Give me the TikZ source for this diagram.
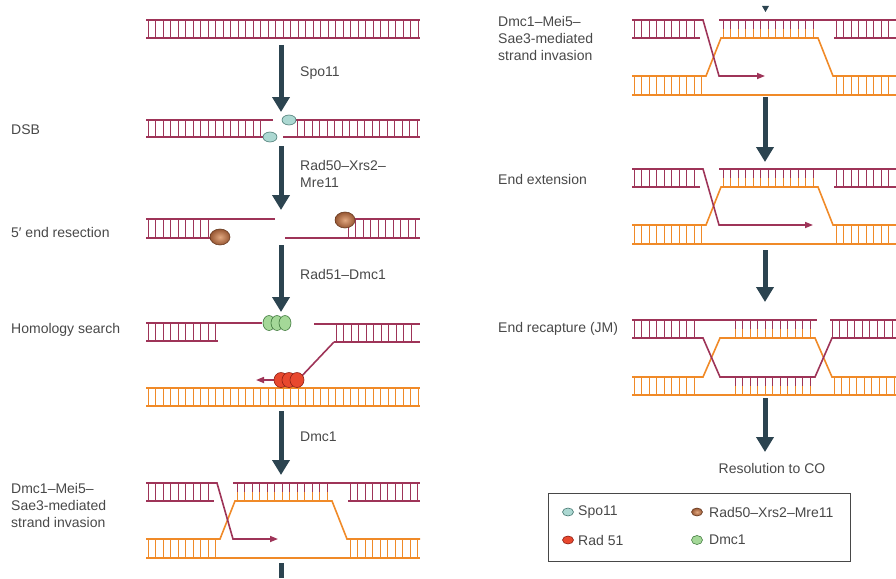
\documentclass[tikz,border=0pt]{standalone}
\usepackage{fontspec}
\setmainfont{Liberation Sans}
\usetikzlibrary{arrows.meta,shapes.geometric}

\definecolor{dnared}{RGB}{158,52,88}
\definecolor{dnaorange}{RGB}{240,138,40}
\definecolor{arrowgray}{RGB}{44,68,80}
\definecolor{labelgray}{RGB}{72,72,72}
\definecolor{spofill}{RGB}{172,216,210}
\definecolor{spoline}{RGB}{70,118,112}
\definecolor{mrelight}{RGB}{226,168,128}
\definecolor{mredark}{RGB}{150,86,50}
\definecolor{dmcfill}{RGB}{164,216,152}
\definecolor{dmcline}{RGB}{62,120,60}
\definecolor{radfill}{RGB}{232,72,46}
\definecolor{radline}{RGB}{140,30,20}

\tikzset{
  strand/.style={line width=1.6pt},
  red strand/.style={strand, draw=dnared},
  orange strand/.style={strand, draw=dnaorange},
  rung/.style={line width=0.8pt},
  stage/.style={-{Triangle[length=15pt,width=17pt]}, line width=5pt, draw=arrowgray},
  lbl/.style={text=labelgray, font=\fontsize{14}{17}\selectfont, inner sep=0pt, align=left},
  protein/.style={ellipse, inner sep=0pt, line width=0.6pt},
  spo/.style={protein, minimum width=14pt, minimum height=10pt, fill=spofill, draw=spoline},
  mre/.style={protein, minimum width=20pt, minimum height=16pt, shading=radial,
    inner color=mrelight, outer color=mredark, draw=mredark!70!black},
  dmc/.style={protein, minimum width=12pt, minimum height=15pt, fill=dmcfill, draw=dmcline},
  rad/.style={protein, minimum width=14pt, minimum height=15pt, fill=radfill, draw=radline},
}

% base pairs between two strands, split in the colours of the two strands
\newcommand{\rungs}[6]{%
  \pgfmathtruncatemacro{\nrung}{(#2-(#1))/7.5}
  \foreach \i in {0,...,\nrung}{
    \pgfmathsetmacro{\rx}{#1+7.5*\i}
    \draw[rung,#5] (\rx,#3) -- (\rx,{(#3+#4)/2});
    \draw[rung,#6] (\rx,{(#3+#4)/2}) -- (\rx,#4);
  }}

% invaded homologue with D-loop, #1 = length, #2 = end of the new strand
\newcommand{\dloop}[2]{%
  \rungs{2}{67}{0}{18}{dnared}{dnared}
  \rungs{91}{184}{0}{18}{dnared}{dnaorange}
  \rungs{204}{#1-2}{0}{18}{dnared}{dnared}
  \rungs{2}{72}{56}{75}{dnaorange}{dnaorange}
  \rungs{204}{#1-2}{56}{75}{dnaorange}{dnaorange}
  \draw[orange strand] (0,56) -- (74,56) -- (89,18) -- (186,18) -- (201,56) -- (#1,56);
  \draw[orange strand] (0,75) -- (#1,75);
  \draw[red strand] (0,18) -- (68,18);
  \draw[red strand] (87,0) -- (#1,0);
  \draw[red strand] (202,18) -- (#1,18);
  \draw[red strand, -{Triangle[length=8pt,width=6pt]}] (0,0) -- (71,0) -- (87,56) -- (#2,56);
}

\begin{document}
\begin{tikzpicture}[x=1pt, y=-1pt]
  \useasboundingbox (0,0) rectangle (896,578);

  % ---- left column ----
  % intact duplex
  \rungs{148}{419}{20}{38}{dnared}{dnared}
  \draw[red strand] (146,20) -- (420,20);
  \draw[red strand] (146,38) -- (420,38);

  % double-strand break
  \rungs{148}{264}{120}{137}{dnared}{dnared}
  \rungs{297}{419}{120}{137}{dnared}{dnared}
  \draw[red strand] (146,120) -- (273,120);
  \draw[red strand] (293,120) -- (420,120);
  \draw[red strand] (146,137) -- (263,137);
  \draw[red strand] (283,137) -- (420,137);
  \node[spo] (spoA) at (289,120) {};
  \node[spo] (spoB) at (270,137) {};

  % resection
  \rungs{148}{214}{219}{238}{dnared}{dnared}
  \rungs{348}{418}{219}{238}{dnared}{dnared}
  \draw[red strand] (146,219) -- (275,219);
  \draw[red strand] (146,238) -- (215,238);
  \draw[red strand] (343,219) -- (420,219);
  \draw[red strand] (285,238) -- (420,238);
  \node[mre] (mreA) at (220,237) {};
  \node[mre] (mreB) at (345,220) {};

  % homology search
  \rungs{148}{216}{323}{341}{dnared}{dnared}
  \rungs{336}{418}{324}{342}{dnared}{dnared}
  \rungs{148}{419}{388}{406}{dnaorange}{dnaorange}
  \draw[red strand] (146,323) -- (262,323);
  \draw[red strand] (146,341) -- (218,341);
  \draw[red strand] (314,324) -- (420,324);
  \draw[red strand] (334,342) -- (420,342);
  \draw[orange strand] (146,388) -- (420,388);
  \draw[orange strand] (146,406) -- (420,406);
  \draw[red strand, -{Triangle[length=8pt,width=6pt]}] (334,342) -- (298,380) -- (256,380);
  \foreach \x [count=\k] in {269,277,285}
    \node[dmc] (dmc\k) at (\x,323) {};
  \foreach \x [count=\k] in {281,289,297}
    \node[rad] (rad\k) at (\x,380) {};

  % strand invasion
  \begin{scope}[shift={(146,483)}]
    \dloop{274}{132}
  \end{scope}

  % stage arrows
  \coordinate (a1) at (281,45);  \coordinate (b1) at (281,112);
  \coordinate (a2) at (281,146); \coordinate (b2) at (281,210);
  \coordinate (a3) at (281,245); \coordinate (b3) at (281,312);
  \coordinate (a4) at (281,411); \coordinate (b4) at (281,475);
  \coordinate (a5) at (281,563); \coordinate (b5) at (281,578);
  \draw[stage] (a1) -- (b1);
  \draw[stage] (a2) -- (b2);
  \draw[stage] (a3) -- (b3);
  \draw[stage] (a4) -- (b4);
  \draw[line width=5pt, arrowgray] (a5) -- (b5);

  \node[lbl, anchor=west] (spoL) at (300,73) {Spo11};
  \node[lbl, anchor=west] (mreL) at (300,174) {Rad50--Xrs2--\\Mre11};
  \node[lbl, anchor=west] (radL) at (300,274) {Rad51--Dmc1};
  \node[lbl, anchor=west] (dmcL) at (300,437) {Dmc1};

  \node[lbl, anchor=west] (dsb) at (11,130) {DSB};
  \node[lbl, anchor=west] (res) at (11,232) {5′ end resection};
  \node[lbl, anchor=west] (hom) at (11,330) {Homology search};
  \node[lbl, anchor=west] (invA) at (11,505) {Dmc1--Mei5--\\Sae3-mediated\\strand invasion};

  % ---- right column ----
  \fill[arrowgray] (762,6) -- (769,6) -- (765.5,12) -- cycle;

  \begin{scope}[shift={(632,20)}]
    \dloop{264}{133}
  \end{scope}

  % end extension
  \begin{scope}[shift={(632,169)}]
    \dloop{264}{181}
  \end{scope}

  % end recapture, joint molecule
  \begin{scope}[shift={(632,320)}]
    \rungs{2}{66}{0}{18}{dnared}{dnared}
    \rungs{103}{178}{0}{18}{dnared}{dnaorange}
    \rungs{200}{262}{0}{18}{dnared}{dnared}
    \rungs{2}{68}{57}{75}{dnaorange}{dnaorange}
    \rungs{103}{178}{57}{75}{dnared}{dnaorange}
    \rungs{202}{262}{57}{75}{dnaorange}{dnaorange}
    \draw[orange strand] (0,57) -- (71,57) -- (88,18) -- (183,18) -- (200,57) -- (264,57);
    \draw[orange strand] (0,75) -- (264,75);
    \draw[red strand] (0,0) -- (185,0);
    \draw[red strand] (198,0) -- (264,0);
    \draw[red strand] (0,18) -- (71,18) -- (88,57) -- (183,57) -- (200,18) -- (264,18);
  \end{scope}

  \coordinate (c1) at (765,97);  \coordinate (d1) at (765,162);
  \coordinate (c2) at (765,250); \coordinate (d2) at (765,302);
  \coordinate (c3) at (765,398); \coordinate (d3) at (765,452);
  \draw[stage] (c1) -- (d1);
  \draw[stage] (c2) -- (d2);
  \draw[stage] (c3) -- (d3);

  \node[lbl, anchor=west] (invB) at (498,38) {Dmc1--Mei5--\\Sae3-mediated\\strand invasion};
  \node[lbl, anchor=west] (ext) at (498,179) {End extension};
  \node[lbl, anchor=west] (rec) at (498,329) {End recapture (JM)};
  \node[lbl] (co) at (772,468) {Resolution to CO};

  % key
  \draw[labelgray, line width=0.8pt] (548,493) rectangle (850,561);
  \node[spo, minimum width=11pt, minimum height=8pt] (kspo) at (568,512) {};
  \node[mre, minimum width=11pt, minimum height=8pt] (kmre) at (697,512) {};
  \node[rad, minimum width=11pt, minimum height=8pt] (krad) at (568,540) {};
  \node[dmc, minimum width=11pt, minimum height=9pt] (kdmc) at (697,540) {};
  \node[lbl, anchor=west] (kspoL) at (578,512) {Spo11};
  \node[lbl, anchor=west] (kmreL) at (709,512) {Rad50--Xrs2--Mre11};
  \node[lbl, anchor=west] (kradL) at (578,540) {Rad 51};
  \node[lbl, anchor=west] (kdmcL) at (709,540) {Dmc1};
\end{tikzpicture}
\end{document}
